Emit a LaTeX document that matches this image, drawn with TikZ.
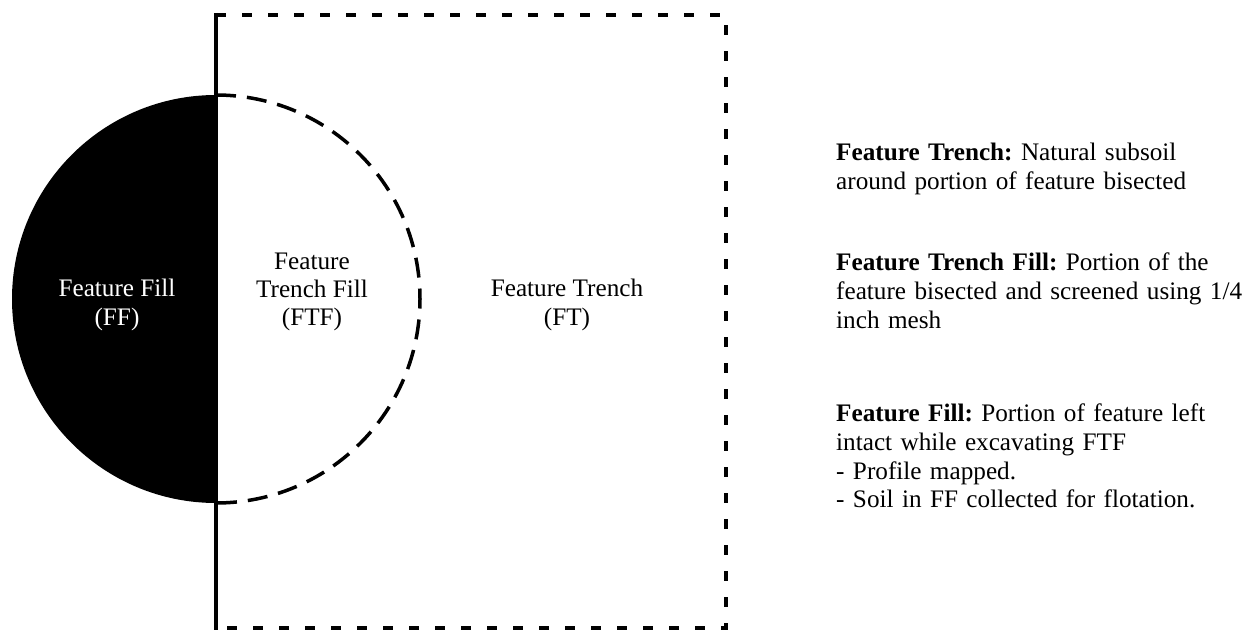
\documentclass[tikz,border=0pt]{standalone}
\usepackage{fontspec}
\setmainfont{Liberation Serif}
\begin{document}
\frenchspacing
\begin{tikzpicture}[x=1bp,y=-1bp,
  solidedge/.style={line width=4bp},
  rectdash/.style={line width=4bp, dash pattern=on 10bp off 16bp},
  arcdash/.style={line width=3.5bp, dash pattern=on 20bp off 11bp},
  lbl/.style={align=center, font=\fontsize{25.3}{28.5}\selectfont, inner sep=0pt},
  desc/.style={align=left, anchor=north west, text width=430bp, font=\fontsize{25.3}{28.7}\selectfont\frenchspacing, inner sep=0pt}]
\useasboundingbox (0,0) rectangle (1257,631);
% half disc (feature fill)
\fill (216,95) arc[start angle=-90, end angle=-270, radius=204] -- cycle;
% dashed half (feature trench fill)
\draw[arcdash] (216,95) arc[start angle=-90, end angle=90, radius=204];
% trench rectangle
\coordinate (tl) at (216,15);
\coordinate (tr) at (726,15);
\coordinate (br) at (726,628);
\coordinate (bl) at (216,628);
\draw[rectdash] (tl) -- (tr) -- (br) -- (bl);
\draw[solidedge] (216,13) -- (216,630);
% labels
\node[lbl, text=white] (ff) at (117,305) {Feature Fill\\(FF)};
\node[lbl] (ftf) at (312,292) {Feature\\Trench Fill\\(FTF)};
\node[lbl] (ft) at (567,305) {Feature Trench\\(FT)};
% descriptions
\node[desc] (d1) at (836,143) {\textbf{Feature Trench:} Natural subsoil\\around portion of feature bisected};
\node[desc] (d2) at (836,253) {\textbf{Feature Trench Fill:} Portion of the\\feature bisected and screened using 1/4\\inch mesh};
\node[desc] (d3) at (836,404) {\textbf{Feature Fill:} Portion of feature left\\intact while excavating FTF\\- Profile mapped.\\- Soil in FF collected for flotation.};
\end{tikzpicture}
\end{document}
